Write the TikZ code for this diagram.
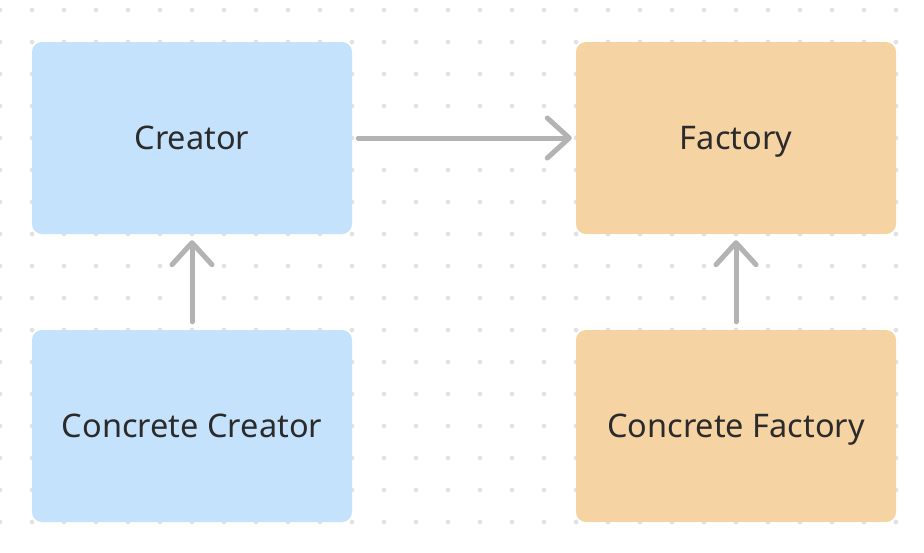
\documentclass[tikz,border=0pt]{standalone}
\usepackage{fontspec}
\setmainfont{Noto Sans}
\usetikzlibrary{arrows.meta}
\definecolor{creatorblue}{HTML}{C4E2FB}
\definecolor{factoryorange}{HTML}{F5D3A3}
\definecolor{arrowgray}{HTML}{B3B3B3}
\definecolor{dotgray}{HTML}{E2E2E2}
\definecolor{textdark}{HTML}{2B2B2B}
\begin{document}
\begin{tikzpicture}
  [x=1pt,y=-1pt,
   box/.style={rectangle,rounded corners=10pt,minimum width=320pt,minimum height=192pt,
     inner sep=0pt,text height=23.2pt,text depth=0pt,text=textdark,
     font=\fontsize{32.5}{38}\selectfont},
   link/.style={draw=arrowgray,line width=5pt,line cap=round,
     -{Straight Barb[length=22pt,width=40pt,round]}}]
  \useasboundingbox (0,0) rectangle (924,552);
  \fill[white] (0,0) rectangle (924,552);
  % dot grid
  \foreach \i in {0,...,28}
    \foreach \j in {0,...,16}
      \fill[dotgray] (32*\i,10+32*\j) circle (2.4pt);

  \node[box,fill=creatorblue] (creator) at (192,138) {Creator};
  \node[box,fill=creatorblue] (ccreator) at (192,426) {Concrete Creator};
  \node[box,fill=factoryorange] (factory) at (736,138) {Factory};
  \node[box,fill=factoryorange] (cfactory) at (736,426) {Concrete Factory};

  \draw[link,shorten <=6pt,shorten >=4pt] (creator) -- (factory);
  \foreach \from/\to in {ccreator/creator,cfactory/factory}
    \draw[link,shorten <=8pt,shorten >=6pt] (\from) -- (\to);

\end{tikzpicture}
\end{document}
